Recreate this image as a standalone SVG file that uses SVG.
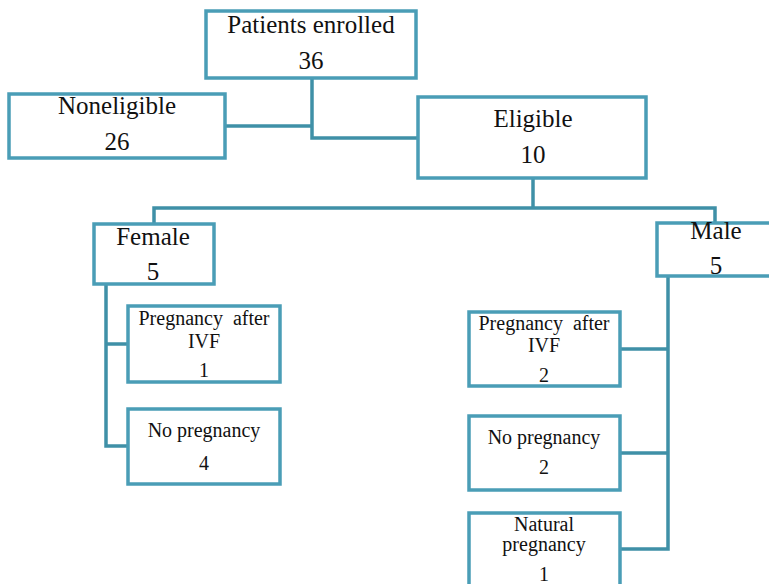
<svg xmlns="http://www.w3.org/2000/svg" width="769" height="584" viewBox="0 0 769 584" font-family="'Liberation Serif', 'Times New Roman', 'DejaVu Serif', serif">
<style>
.box{fill:#fff;stroke:#4a9db6;stroke-width:3.5}
.ln{fill:none;stroke:#3f90a7;stroke-width:3.5}
text{fill:#111;text-anchor:middle}
.b{font-size:25px}
.s{font-size:20px}
</style>
<rect width="769" height="584" fill="#fff"/>
<g id="connectors">
<path class="ln" d="M312 79V138H417"/>
<path class="ln" d="M226 126H312"/>
<path class="ln" d="M533 179V208"/>
<path class="ln" d="M154 224V208H715V223"/>
<path class="ln" d="M106 285V446H127M106 344H127"/>
<path class="ln" d="M668 277V549H621M668 349H621M668 453H621"/>
</g>
<g id="n-patients"><rect class="box" x="206" y="11" width="210" height="67"/><text class="b" x="311" y="33">Patients enrolled</text><text class="b" x="311" y="69">36</text></g>
<g id="n-noneligible"><rect class="box" x="9" y="94" width="216" height="64"/><text class="b" x="117" y="114">Noneligible</text><text class="b" x="117" y="150">26</text></g>
<g id="n-eligible"><rect class="box" x="418" y="97" width="228" height="81"/><text class="b" x="533" y="127">Eligible</text><text class="b" x="533" y="163">10</text></g>
<g id="n-female"><rect class="box" x="94" y="224" width="120" height="60"/><text class="b" x="153" y="245">Female</text><text class="b" x="153" y="280">5</text></g>
<g id="n-male"><rect class="box" x="657" y="223" width="130" height="53"/><text class="b" x="716" y="239">Male</text><text class="b" x="716" y="274">5</text></g>
<g id="n-f-ivf"><rect class="box" x="128" y="306" width="152" height="76"/><text class="s" x="204" y="325" xml:space="preserve">Pregnancy  after</text><text class="s" x="204" y="348">IVF</text><text class="s" x="204" y="377">1</text></g>
<g id="n-f-nopreg"><rect class="box" x="128" y="409" width="152" height="75"/><text class="s" x="204" y="437">No pregnancy</text><text class="s" x="204" y="470">4</text></g>
<g id="n-m-ivf"><rect class="box" x="469" y="312" width="151" height="74"/><text class="s" x="544" y="330" xml:space="preserve">Pregnancy  after</text><text class="s" x="544" y="352">IVF</text><text class="s" x="544" y="382">2</text></g>
<g id="n-m-nopreg"><rect class="box" x="469" y="416" width="151" height="74"/><text class="s" x="544" y="444">No pregnancy</text><text class="s" x="544" y="474">2</text></g>
<g id="n-m-natural"><rect class="box" x="469" y="513" width="151" height="90"/><text class="s" x="544" y="531">Natural</text><text class="s" x="544" y="551">pregnancy</text><text class="s" x="544" y="581">1</text></g>
</svg>
